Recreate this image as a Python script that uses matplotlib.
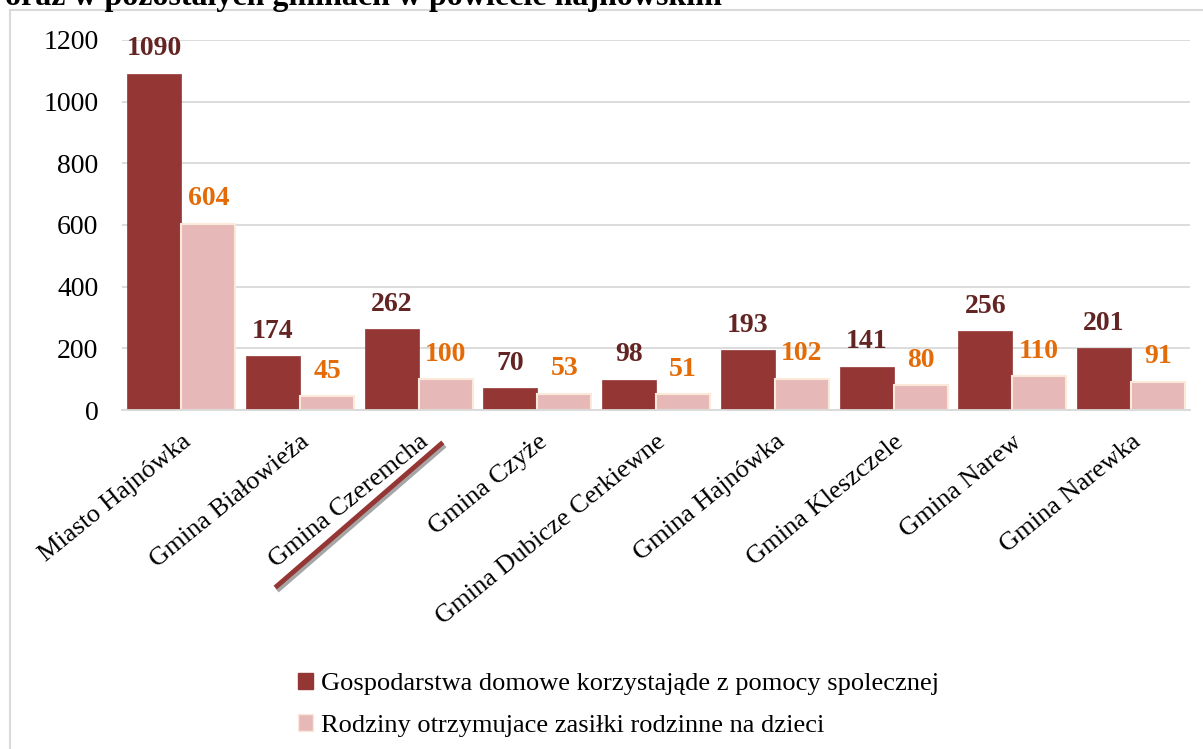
import numpy as np
import matplotlib.pyplot as plt
from matplotlib.patches import Rectangle, Patch
from matplotlib.lines import Line2D

gminy = ['Miasto Hajnówka', 'Gmina Białowieża', 'Gmina Czeremcha', 'Gmina Czyże',
         'Gmina Dubicze Cerkiewne', 'Gmina Hajnówka', 'Gmina Kleszczele',
         'Gmina Narew', 'Gmina Narewka']
gospodarstwa = [1090, 174, 262, 70, 98, 193, 141, 256, 201]
rodziny = [604, 45, 100, 53, 51, 102, 80, 110, 91]

lab1 = 'Gospodarstwa domowe korzystająde z pomocy spolecznej'
lab2 = 'Rodziny otrzymujace zasiłki rodzinne na dzieci'

c_dark = '#943634'
c_light = '#E6B9B8'
c_lab_dark = '#632523'
c_lab_orange = '#E36C09'

plt.rcParams['font.family'] = ['Liberation Serif', 'DejaVu Serif']

fig = plt.figure(figsize=(12.03, 7.49), dpi=100)
ax = fig.add_axes([0.1014, 0.4526, 0.888, 0.494])

# frame and cut-off title
fig.patches.append(Rectangle((10 / 1203, -0.01), 1.02, 1 - 10 / 749 + 0.01,
                             transform=fig.transFigure, fill=False,
                             edgecolor='#D9D9D9', linewidth=1.5))
fig.text(0.004, 1 - 5 / 749, 'oraz w pozostałych gminach w powiecie hajnowskim',
         fontsize=23, fontweight='bold', ha='left', va='baseline')

x = np.arange(len(gminy))
w = 0.455
b1 = ax.bar(x - w / 2, gospodarstwa, w, color=c_dark, edgecolor=c_dark, linewidth=0.5)
b2 = ax.bar(x + w / 2, rodziny, w, color=c_light, edgecolor='#FDE9D9', linewidth=1.5)

for xi, v in zip(x, gospodarstwa):
    ax.annotate(str(v), (xi - w / 2, v), xytext=(0, 9), textcoords='offset points',
                ha='center', va='bottom', fontsize=20, fontweight='bold', color=c_lab_dark)
for xi, v in zip(x, rodziny):
    ax.annotate(str(v), (xi + w / 2, v), xytext=(0, 9), textcoords='offset points',
                ha='center', va='bottom', fontsize=20, fontweight='bold', color=c_lab_orange)

ax.set_xlim(-0.5, len(gminy) - 0.5)
ax.set_ylim(0, 1200)
ax.set_yticks(range(0, 1201, 200))
ax.yaxis.grid(True, color='#D9D9D9', linewidth=1.3)
ax.set_axisbelow(True)
for s in ['top', 'right', 'left']:
    ax.spines[s].set_visible(False)
ax.spines['bottom'].set_color('#D9D9D9')
ax.spines['bottom'].set_linewidth(1.3)
ax.tick_params(length=0, labelsize=20)
ax.tick_params(axis='y', pad=17)
ax.set_xticks(x)
ax.set_xticklabels(gminy, rotation=39, ha='right', rotation_mode='anchor', fontsize=19)
ax.tick_params(axis='x', pad=15)

# decorative underline below "Gmina Czeremcha"
fig.add_artist(Line2D([279 / 1203, 443 / 1203], [1 - 589 / 749, 1 - 447 / 749],
                      color='#A6A6A6', linewidth=3.5, transform=fig.transFigure))
fig.add_artist(Line2D([277 / 1203, 441 / 1203], [1 - 586 / 749, 1 - 444 / 749],
                      color=c_dark, linewidth=3.5, transform=fig.transFigure))

handles = [Patch(facecolor=c_dark, edgecolor=c_dark),
           Patch(facecolor=c_light, edgecolor='#FDE9D9')]
fig.legend(handles, [lab1, lab2], loc='upper left', bbox_to_anchor=(287 / 1203, 1 - 662 / 749),
           frameon=False, fontsize=19, handlelength=0.6, handleheight=0.6,
           handletextpad=0.3, labelspacing=0.72, borderaxespad=0)

fig.savefig('out.png', dpi=100)
